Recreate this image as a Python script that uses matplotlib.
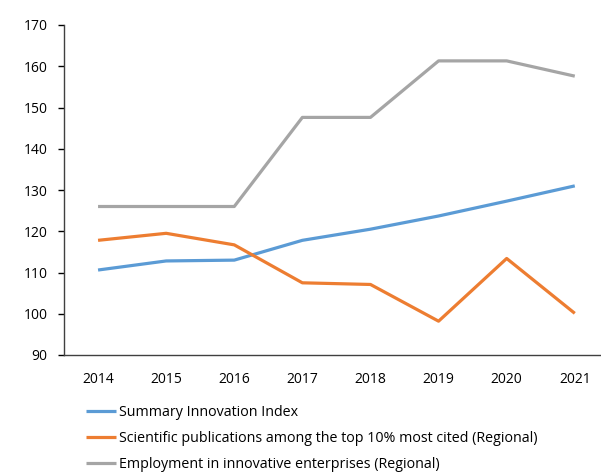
import matplotlib
matplotlib.use('Agg')
import matplotlib.pyplot as plt

years = ['2014', '2015', '2016', '2017', '2018', '2019', '2020', '2021']
summary_index = [110.6, 112.8, 113.0, 117.8, 120.5, 123.7, 127.3, 131.0]
publications = [117.8, 119.5, 116.7, 107.5, 107.1, 98.2, 113.4, 100.1]
employment = [126.0, 126.0, 126.0, 147.6, 147.6, 161.3, 161.3, 157.6]

labels = ['Summary Innovation Index',
          'Scientific publications among the top 10% most cited (Regional)',
          'Employment in innovative enterprises (Regional)']
colors = ['#5B9BD5', '#ED7D31', '#A5A5A5']

plt.rcParams['font.family'] = ['Open Sans', 'DejaVu Sans']

fig = plt.figure(figsize=(6.01, 4.76), dpi=100)
ax = fig.add_axes([64/601, 1 - 355/476, 1 - 64/601, (355 - 25)/476])

x = list(range(len(years)))
#draw the three series
for vals, lab, col in zip([summary_index, publications, employment], labels, colors):
    ax.plot(x, vals, color=col, linewidth=2.3, label=lab, solid_capstyle='butt')

ax.set_xlim(-0.5, 7.385)
ax.set_ylim(90, 170)
ax.set_yticks(range(90, 171, 10))
ax.set_xticks(x)
ax.set_xticklabels(years)
ax.tick_params(axis='x', length=0, pad=12, labelsize=10, colors='black')
ax.tick_params(axis='y', length=4, width=1, direction='out', pad=8, labelsize=10, colors='black')
for s in ['top', 'right']:
    ax.spines[s].set_visible(False)
for s in ['left', 'bottom']:
    ax.spines[s].set_color('#404040')
    ax.spines[s].set_linewidth(1)

fig.legend(loc='upper left', bbox_to_anchor=(80/601, 1 - 399/476), frameon=False,
           fontsize=10.3, handlelength=2.1, handletextpad=0.25, labelspacing=0.78,
           borderaxespad=0)

fig.savefig('out.png', dpi=100)
